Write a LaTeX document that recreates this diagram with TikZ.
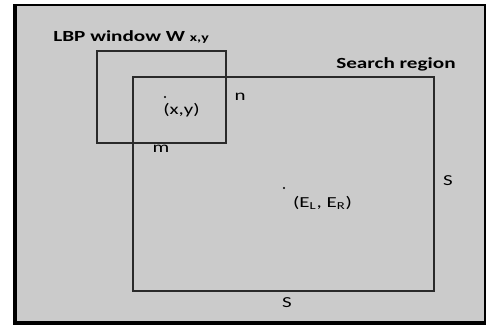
\documentclass[tikz,border=0pt]{standalone}
\usepackage{fontspec}
\setmainfont{Carlito}
\newfontfamily\labfont[FakeStretch=1.37]{Carlito}
\definecolor{panel}{HTML}{CBCBCB}
\definecolor{ink}{HTML}{2A2A2A}
\tikzset{
  box/.style={draw=ink, line width=0.6pt},
  title/.style={font=\labfont\bfseries\fontsize{8.8}{10}\selectfont, inner sep=0pt, text=black},
  mark label/.style={font=\labfont\fontsize{8.7}{10}\selectfont, inner sep=0pt, text=black},
  pt/.style={fill=black, draw=none}
}
\begin{document}
\begin{tikzpicture}[x=0.02cm, y=-0.02cm]
  \useasboundingbox (0,0) rectangle (487,325);
  \fill[white] (0,0) rectangle (487,325);
  % panel with a shadowed frame
  \fill[panel] (13,4) rectangle (486,324);
  \draw[black, line width=1.3pt] (14,5) rectangle (485,322);
  \draw[black, line width=2.4pt] (15,4) -- (15,323) -- (486,323);

  % LBP window and search region
  \draw[box] (97,51) rectangle (226,143);
  \draw[box] (133,77) rectangle (434,291);

  % labels
  \node[title, anchor=base west] (lbp) at (53,41) {LBP window W {\fontsize{6.6}{8}\selectfont x,y}};
  \node[title, anchor=base east] (search) at (456,68) {Search region};

  \fill[pt] (165,97) circle (1.1);
  \node[mark label] (xy) at (181.5,110) {(x,y)};
  \node[mark label] (n) at (240,97) {n};
  \node[mark label] (m) at (161,149) {m};

  \fill[pt] (284,188) circle (1.1);
  \node[mark label] (e) at (322.5,203) {(E\textsubscript{L}, E\textsubscript{R})};
  \node[mark label] (sr) at (448,181) {S};
  \node[mark label] (sb) at (287,303) {S};
\end{tikzpicture}
\end{document}
